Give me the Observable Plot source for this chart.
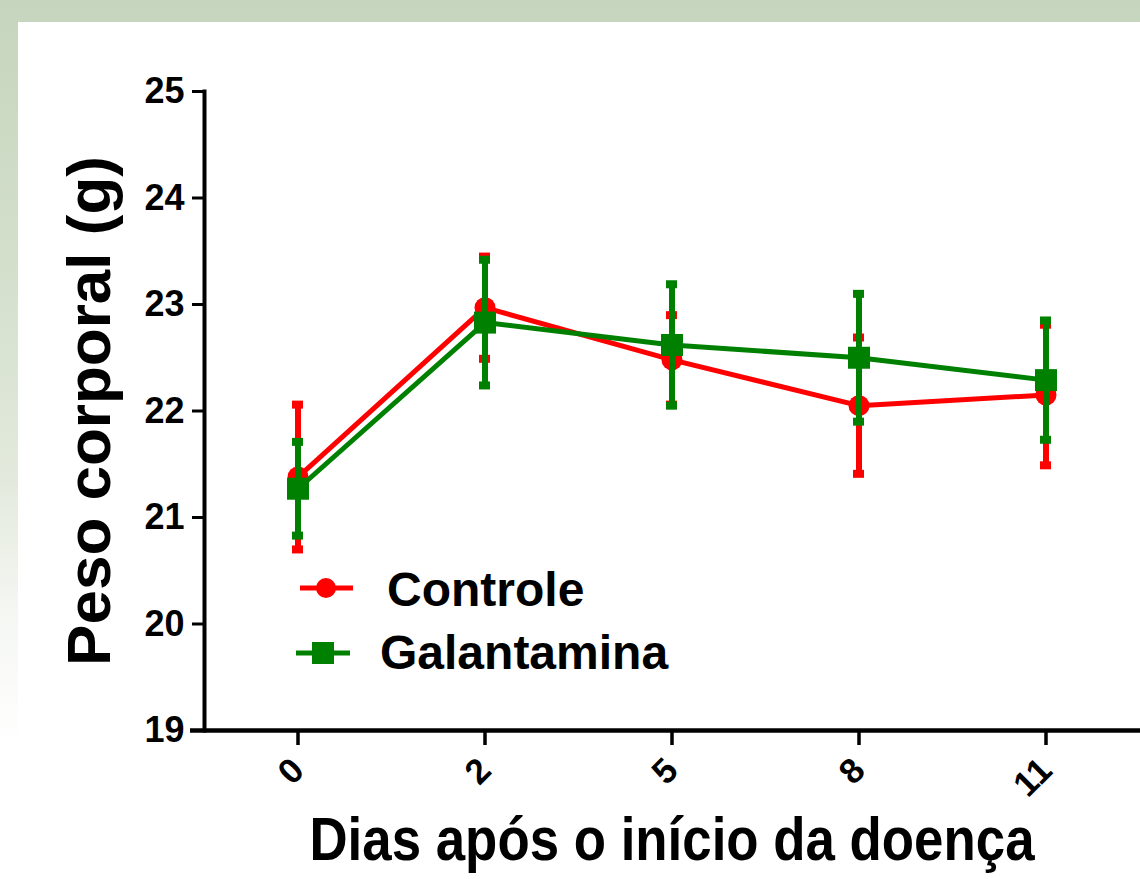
<!DOCTYPE html>
<html>
<head>
<meta charset="utf-8">
<script src="https://cdn.jsdelivr.net/npm/d3@7"></script>
<script src="https://cdn.jsdelivr.net/npm/@observablehq/plot@0.6"></script>
<style>
  html, body { margin: 0; padding: 0; }
  body {
    width: 1140px; height: 879px; position: relative; overflow: hidden;
    background: linear-gradient(to bottom, #c6d5bd 0%, #d3dfcb 30%, #e3eadd 55%, #f5f7f3 70%, #ffffff 85%);
    font-family: "Liberation Sans", Arial, sans-serif;
  }
  #panel { position: absolute; left: 18px; top: 22px; right: 0; bottom: 0; background: #ffffff; }
  #chart { position: absolute; left: 0; top: 0; }
  .leg { position: absolute; font-size: 48px; font-weight: bold; line-height: 48px; color: #000; white-space: nowrap; }
  #swatch { position: absolute; left: 280px; top: 560px; }
  #xtitle { position: absolute; left: 172px; width: 1000px; top: 808px; text-align: center;
            font-size: 62px; line-height: 62px; font-weight: bold; color: #000; white-space: nowrap;
            transform: scaleX(0.852); transform-origin: 500px 0; }
</style>
</head>
<body>
<div id="panel"></div>
<div id="chart"></div>
<svg id="swatch" width="100" height="120">
  <line x1="20" x2="73" y1="28" y2="28" stroke="#ff0000" stroke-width="5"/>
  <circle cx="46" cy="28" r="10" fill="#ff0000"/>
  <line x1="16" x2="70" y1="93" y2="93" stroke="#008000" stroke-width="5"/>
  <rect x="32" y="82" width="22" height="22" fill="#008000"/>
</svg>
<div class="leg" style="left:387px; top:566px;">Controle</div>
<div class="leg" style="left:380px; top:629px;">Galantamina</div>
<div id="xtitle">Dias após o início da doença</div>
<script>
// Data
const days = ["0", "2", "5", "8", "11"];
const controleMean = [21.38, 22.97, 22.48, 22.05, 22.15];
const controleErr  = [0.68, 0.48, 0.42, 0.64, 0.66];
const galantaminaMean = [21.27, 22.83, 22.62, 22.50, 22.29];
const galantaminaErr  = [0.44, 0.59, 0.57, 0.60, 0.56];
const yTicks = [19, 20, 21, 22, 23, 24, 25];

const controle = days.map((d, i) => ({day: d, mean: controleMean[i], lo: controleMean[i] - controleErr[i], hi: controleMean[i] + controleErr[i]}));
const galantamina = days.map((d, i) => ({day: d, mean: galantaminaMean[i], lo: galantaminaMean[i] - galantaminaErr[i], hi: galantaminaMean[i] + galantaminaErr[i]}));

const RED = "#ff0000", GREEN = "#008000";

function series(data, color, symbol, r) {
  return [
    Plot.ruleX(data, {x: "day", y1: "lo", y2: "hi", stroke: color, strokeWidth: 6}),
    Plot.tickY(data, {x: "day", y: "hi", stroke: color, strokeWidth: 8}),
    Plot.tickY(data, {x: "day", y: "lo", stroke: color, strokeWidth: 8}),
    Plot.line(data, {x: "day", y: "mean", stroke: color, strokeWidth: 5}),
    Plot.dot(data, {x: "day", y: "mean", fill: color, stroke: "none", symbol, r})
  ];
}

const chart = Plot.plot({
  width: 1140,
  height: 879,
  marginLeft: 204,
  marginRight: 0,
  marginTop: 91,
  marginBottom: 149,
  style: {background: "transparent", fontFamily: "'Liberation Sans', Arial, sans-serif", color: "#000"},
  x: {type: "band", domain: days, paddingInner: 0.94, paddingOuter: 0.47},
  y: {domain: [19, 25]},
  marks: [
    Plot.axisY({ticks: yTicks, tickFormat: d3.format("d"), tickSize: 12, tickPadding: 8, fontSize: 36, fontWeight: "bold", strokeWidth: 3, label: null}),
    Plot.axisX({tickSize: 15, tickFormat: () => "", strokeWidth: 3.5, label: null}),
    Plot.text(days, {x: d => d, frameAnchor: "bottom", dy: 34, rotate: -45, textAnchor: "end", lineAnchor: "middle", fontSize: 35, fontWeight: "bold", fill: "#000"}),
    Plot.frame({anchor: "left", strokeWidth: 4, stroke: "#000"}),
    Plot.ruleY([19], {strokeWidth: 4.5, insetLeft: -14, stroke: "#000"}),
    Plot.text(["Peso corporal (g)"], {frameAnchor: "left", dx: -114, rotate: -90, textAnchor: "middle", lineAnchor: "middle", fontSize: 62, fontWeight: "bold", fill: "#000"}),
    ...series(controle, RED, "circle", 10.5),
    ...series(galantamina, GREEN, "square", 12.4)
  ]
});
document.getElementById("chart").appendChild(chart);
</script>
</body>
</html>
